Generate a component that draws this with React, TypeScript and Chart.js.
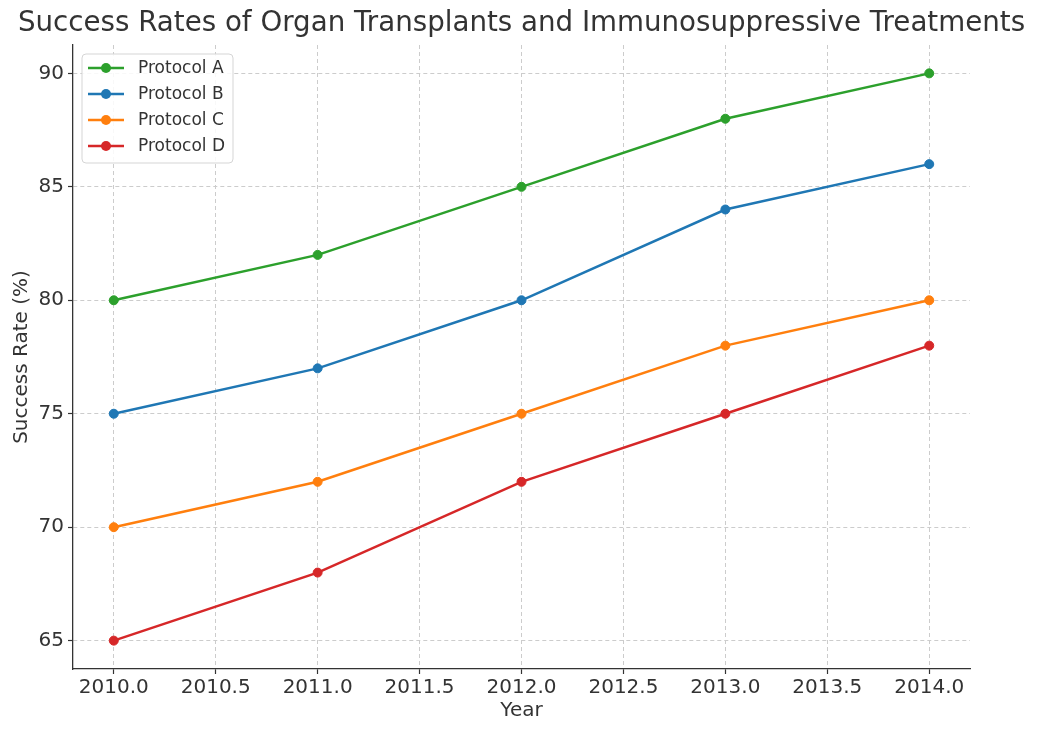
import React, { useEffect, useRef } from "react";
import { Chart, registerables } from "chart.js";

Chart.register(...registerables);

const years = [2010, 2011, 2012, 2013, 2014];
const protocolA = [80, 82, 85, 88, 90];
const protocolB = [75, 77, 80, 84, 86];
const protocolC = [70, 72, 75, 78, 80];
const protocolD = [65, 68, 72, 75, 78];
const xTicks = [2010, 2010.5, 2011, 2011.5, 2012, 2012.5, 2013, 2013.5, 2014];
const yTicks = [65, 70, 75, 80, 85, 90];
const seriesNames = ["Protocol A", "Protocol B", "Protocol C", "Protocol D"];
const seriesColors = ["#2ca02c", "#1f77b4", "#ff7f0e", "#d62728"];
const titleText = "Success Rates of Organ Transplants and Immunosuppressive Treatments";
const xTitle = "Year";
const yTitle = "Success Rate (%)";

const FONT = "'DejaVu Sans', sans-serif";
const TEXT = "#333333";

export default function App() {
  const ref = useRef<HTMLCanvasElement | null>(null);
  useEffect(() => {
    const series = [protocolA, protocolB, protocolC, protocolD];
    const datasets = series.map((s, i) => ({
      label: seriesNames[i],
      data: s.map((v, j) => ({ x: years[j], y: v })),
      borderColor: seriesColors[i],
      backgroundColor: seriesColors[i],
      borderWidth: 2.5,
      pointRadius: 4.5,
      pointBorderWidth: 1,
      pointBorderColor: seriesColors[i],
      pointBackgroundColor: seriesColors[i],
      tension: 0,
    }));

    const decor = {
      id: "decor",
      afterDraw(chart: any) {
        const ctx = chart.ctx;
        const ca = chart.chartArea;
        ctx.save();
        // title
        ctx.fillStyle = TEXT;
        ctx.font = `27.7px ${FONT}`;
        ctx.textAlign = "center";
        ctx.textBaseline = "middle";
        ctx.fillText(titleText, (ca.left + ca.right) / 2, 24);
        // axis titles
        ctx.font = `20px ${FONT}`;
        ctx.fillText(xTitle, (ca.left + ca.right) / 2, 711);
        ctx.save();
        ctx.translate(22, (ca.top + ca.bottom) / 2);
        ctx.rotate(-Math.PI / 2);
        ctx.fillText(yTitle, 0, 0);
        ctx.restore();
        // legend
        const lx = ca.left + 9;
        const ly = ca.top + 9;
        const lw = 151;
        const lh = 109;
        ctx.beginPath();
        const r = 4;
        ctx.moveTo(lx + r, ly);
        ctx.arcTo(lx + lw, ly, lx + lw, ly + lh, r);
        ctx.arcTo(lx + lw, ly + lh, lx, ly + lh, r);
        ctx.arcTo(lx, ly + lh, lx, ly, r);
        ctx.arcTo(lx, ly, lx + lw, ly, r);
        ctx.closePath();
        ctx.fillStyle = "rgba(255,255,255,0.85)";
        ctx.fill();
        ctx.strokeStyle = "#d5d5d5";
        ctx.lineWidth = 1;
        ctx.stroke();
        ctx.font = `17px ${FONT}`;
        ctx.textAlign = "left";
        for (let i = 0; i < seriesNames.length; i++) {
          const y = ly + 14 + i * 26;
          ctx.strokeStyle = seriesColors[i];
          ctx.lineWidth = 2.5;
          ctx.beginPath();
          ctx.moveTo(lx + 6, y);
          ctx.lineTo(lx + 42, y);
          ctx.stroke();
          ctx.fillStyle = seriesColors[i];
          ctx.beginPath();
          ctx.arc(lx + 24, y, 5, 0, Math.PI * 2);
          ctx.fill();
          ctx.fillStyle = TEXT;
          ctx.fillText(seriesNames[i], lx + 56, y + 1);
        }
        ctx.restore();
      },
    };

    const chart = new Chart(ref.current as HTMLCanvasElement, {
      type: "line",
      data: { datasets: datasets as any },
      plugins: [decor as any],
      options: {
        responsive: false,
        animation: false,
        layout: { padding: { top: 45, right: 68, left: 0, bottom: 0 } },
        plugins: { legend: { display: false }, title: { display: false }, tooltip: { enabled: false } },
        scales: {
          x: {
            type: "linear",
            min: 2009.8,
            max: 2014.2,
            afterBuildTicks: (scale: any) => {
              scale.ticks = xTicks.map((v) => ({ value: v }));
            },
            afterFit: (scale: any) => {
              scale.height = 66;
            },
            ticks: {
              callback: (v: any) => Number(v).toFixed(1),
              font: { family: FONT, size: 20 },
              color: TEXT,
              padding: 2,
              maxRotation: 0,
              autoSkip: false,
            },
            grid: {
              color: "#cccccc",
              lineWidth: 1,
              tickLength: 5,
              tickColor: TEXT,
              tickWidth: 1.2,
              tickBorderDash: [],
            } as any,
            border: { display: true, color: TEXT, width: 1.3, dash: [4, 3] } as any,
          },
          y: {
            type: "linear",
            min: 63.75,
            max: 91.25,
            afterBuildTicks: (scale: any) => {
              scale.ticks = yTicks.map((v) => ({ value: v }));
            },
            afterFit: (scale: any) => {
              scale.width = 73;
            },
            ticks: {
              font: { family: FONT, size: 20 },
              color: TEXT,
              padding: 4,
            },
            grid: {
              color: "#cccccc",
              lineWidth: 1,
              tickLength: 5,
              tickColor: TEXT,
              tickWidth: 1.2,
              tickBorderDash: [],
            } as any,
            border: { display: true, color: TEXT, width: 1.3, dash: [4, 3] } as any,
          },
        },
      },
    });
    return () => chart.destroy();
  }, []);

  return (
    <div style={{ position: "fixed", left: 0, top: 0, width: 1038, height: 735, background: "#fff" }}>
      <canvas ref={ref} width={1038} height={735} />
    </div>
  );
}
